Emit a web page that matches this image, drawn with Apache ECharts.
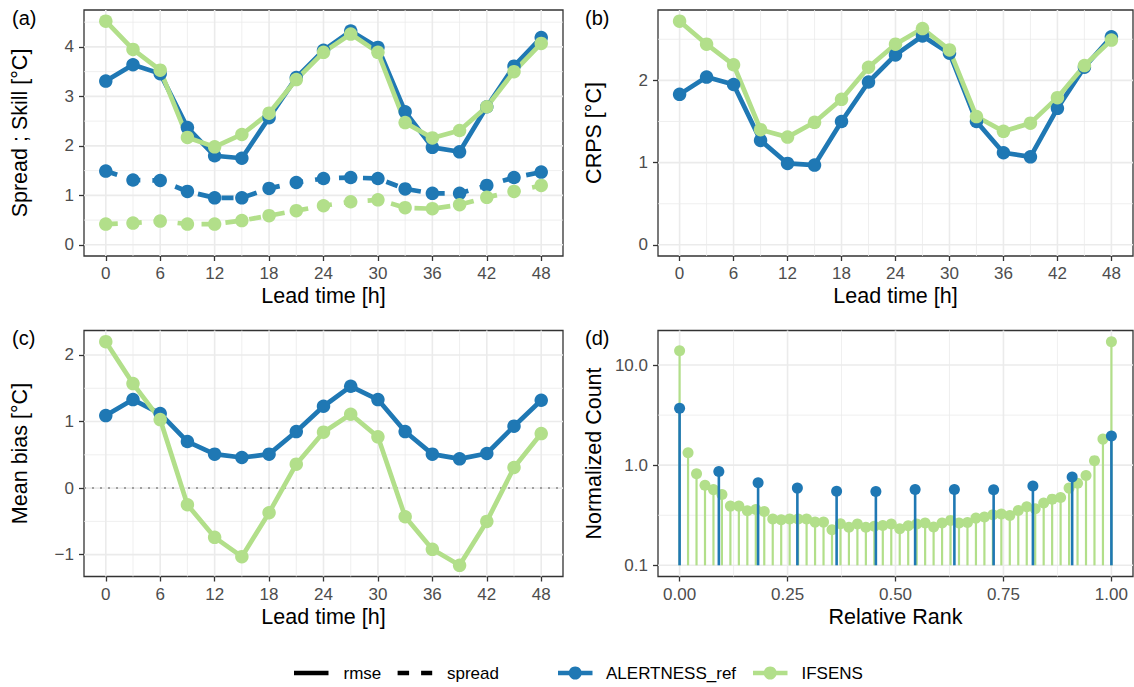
<!DOCTYPE html>
<html>
<head>
<meta charset="utf-8">
<script src="https://cdn.jsdelivr.net/npm/echarts@6/dist/echarts.min.js"></script>
<style>
  html, body { margin: 0; padding: 0; background: #ffffff; }
  #chart { width: 1134px; height: 687px; }
</style>
</head>
<body>
<div id="chart"></div>
<script>
// ---- data -------------------------------------------------------------
const leadTimes = [0, 3, 6, 9, 12, 15, 18, 21, 24, 27, 30, 33, 36, 39, 42, 45, 48];

// (a) RMSE (skill) and ensemble spread [°C]
const rmseRef   = [3.31, 3.64, 3.46, 2.37, 1.80, 1.75, 2.57, 3.38, 3.93, 4.32, 3.99, 2.69, 1.97, 1.88, 2.79, 3.61, 4.19];
const rmseEns   = [4.52, 3.95, 3.53, 2.17, 1.98, 2.23, 2.66, 3.34, 3.89, 4.26, 3.89, 2.47, 2.16, 2.31, 2.79, 3.50, 4.07];
const spreadRef = [1.49, 1.31, 1.30, 1.08, 0.95, 0.95, 1.14, 1.26, 1.34, 1.36, 1.34, 1.13, 1.04, 1.04, 1.20, 1.36, 1.47];
const spreadEns = [0.42, 0.44, 0.48, 0.42, 0.42, 0.49, 0.59, 0.69, 0.79, 0.87, 0.91, 0.75, 0.73, 0.81, 0.96, 1.08, 1.20];

// (b) CRPS [°C]
const crpsRef = [1.83, 2.04, 1.95, 1.27, 0.99, 0.97, 1.50, 1.98, 2.31, 2.54, 2.33, 1.50, 1.12, 1.07, 1.66, 2.16, 2.53];
const crpsEns = [2.72, 2.44, 2.19, 1.40, 1.31, 1.49, 1.77, 2.16, 2.44, 2.63, 2.37, 1.56, 1.38, 1.48, 1.79, 2.18, 2.49];

// (c) mean bias [°C]
const biasRef = [1.09, 1.33, 1.12, 0.70, 0.51, 0.46, 0.51, 0.85, 1.23, 1.53, 1.33, 0.85, 0.51, 0.44, 0.52, 0.93, 1.32];
const biasEns = [2.20, 1.57, 1.03, -0.25, -0.74, -1.03, -0.37, 0.36, 0.84, 1.11, 0.77, -0.43, -0.92, -1.16, -0.50, 0.31, 0.82];

// (d) rank histograms, normalized counts (12 bins for ALERTNESS_ref, 52 bins for IFSENS)
const rankCountRef = [3.70, 0.865, 0.667, 0.59, 0.55, 0.547, 0.572, 0.572, 0.568, 0.618, 0.76, 1.96];
const rankCountEns = [
  13.9, 1.33, 0.82, 0.63, 0.57, 0.51, 0.39, 0.39, 0.35, 0.36,
  0.345, 0.29, 0.285, 0.29, 0.29, 0.29, 0.27, 0.27, 0.227, 0.26,
  0.24, 0.258, 0.24, 0.245, 0.25, 0.258, 0.232, 0.248, 0.258, 0.264,
  0.241, 0.264, 0.281, 0.264, 0.268, 0.296, 0.303, 0.32, 0.325, 0.315,
  0.353, 0.384, 0.367, 0.418, 0.458, 0.476, 0.59, 0.66, 0.79, 1.11,
  1.82, 17.1
];

// axis breaks
const leadTicks  = [0, 6, 12, 18, 24, 30, 36, 42, 48];
const leadMinor  = [3, 9, 15, 21, 27, 33, 39, 45];
const skillTicks = [0, 1, 2, 3, 4];
const skillMinor = [0.5, 1.5, 2.5, 3.5, 4.5];
const crpsTicks  = [0, 1, 2];
const crpsMinor  = [0.5, 1.5, 2.5];
const biasTicks  = [-1, 0, 1, 2];
const biasMinor  = [-0.5, 0.5, 1.5];
const rankTicks  = [0, 0.25, 0.5, 0.75, 1];
const rankMinor  = [0.125, 0.375, 0.625, 0.875];
const countTicks = [0.1, 1, 10];          // drawn on a log10 scale
const countMinor = [0.316, 3.16];

// ---- styling ------------------------------------------------------------
const BLUE = '#1F78B4';
const GREEN = '#B2DF8A';
const FONT = '"Liberation Sans", Arial, Helvetica, sans-serif';
const LOG_BASE_VALUE = 0.1;   // stems of the rank histogram start here

const log10 = v => Math.log10(v);
const minusFmt = v => (v < 0 ? '\u2212' + Math.abs(v) : String(v));

function axisCommon(ticks, fmt) {
  return {
    axisLine: { show: false, onZero: false },
    splitLine: { show: false },
    axisTick: { show: true, length: 5, lineStyle: { color: '#333333', width: 1.3 }, customValues: ticks },
    axisLabel: { customValues: ticks, color: '#4D4D4D', fontSize: 17, fontFamily: FONT, formatter: fmt }
  };
}

function xAxisDef(gi, min, max, ticks, fmt, name) {
  const a = axisCommon(ticks, fmt);
  a.axisLabel.margin = 9;
  return Object.assign({
    type: 'value', gridIndex: gi, min, max,
    name, nameLocation: 'middle', nameGap: 29,
    nameTextStyle: { fontSize: 21.5, color: '#000000', fontFamily: FONT }
  }, a);
}

function yAxisDef(gi, min, max, ticks, fmt, name) {
  const a = axisCommon(ticks, fmt);
  a.axisLabel.margin = 10;
  return Object.assign({
    type: 'value', gridIndex: gi, min, max,
    name, nameLocation: 'middle', nameGap: 53, nameRotate: 90,
    nameTextStyle: { fontSize: 21.5, color: '#000000', fontFamily: FONT }
  }, a);
}

// background grid lines (major / minor) plus optional dotted reference line
function gridLines(gi, xMaj, xMin, yMaj, yMin, xRef, yRef, dotted) {
  const data = [];
  xMaj.forEach(v => data.push([v, yRef, 0, 1]));
  xMin.forEach(v => data.push([v, yRef, 0, 0]));
  yMaj.forEach(v => data.push([xRef, v, 1, 1]));
  yMin.forEach(v => data.push([xRef, v, 1, 0]));
  (dotted || []).forEach(v => data.push([xRef, v, 1, 2]));
  return {
    type: 'custom', xAxisIndex: gi, yAxisIndex: gi, silent: true, z: 1,
    data,
    renderItem(params, api) {
      const cs = params.coordSys;
      const vertical = api.value(2) === 0;
      const kind = api.value(3);
      const p = api.coord([api.value(0), api.value(1)]);
      const shape = vertical
        ? { x1: p[0], y1: cs.y, x2: p[0], y2: cs.y + cs.height }
        : { x1: cs.x, y1: p[1], x2: cs.x + cs.width, y2: p[1] };
      let style;
      if (kind === 2) style = { stroke: '#A0A0A0', lineWidth: 2, lineDash: [2, 6] };
      else style = { stroke: '#EBEBEB', lineWidth: kind === 1 ? 1.6 : 0.8 };
      return { type: 'line', shape, style };
    }
  };
}

function lineSeries(gi, name, ys, color, dashed) {
  return {
    type: 'line', name, xAxisIndex: gi, yAxisIndex: gi, z: 2, silent: true,
    data: leadTimes.map((t, i) => [t, ys[i]]),
    symbol: 'none', showSymbol: false,
    lineStyle: { color, width: 4.7, type: dashed ? [12, 12] : 'solid', join: 'round', cap: 'butt' }
  };
}

function pointSeries(gi, name, ys, color) {
  return {
    type: 'scatter', name, xAxisIndex: gi, yAxisIndex: gi, z: 3, silent: true,
    data: leadTimes.map((t, i) => [t, ys[i]]),
    symbol: 'circle', symbolSize: 13.5,
    itemStyle: { color, opacity: 1 }
  };
}

// rank histogram: each bin sits at relative rank i/(n-1)
function rankData(counts) {
  const n = counts.length;
  return counts.map((c, i) => [i / (n - 1), log10(c)]);
}

function stemSeries(gi, name, counts, color, width, z) {
  const base = log10(LOG_BASE_VALUE);
  return {
    type: 'custom', name, xAxisIndex: gi, yAxisIndex: gi, z, silent: true,
    data: rankData(counts),
    renderItem(params, api) {
      const top = api.coord([api.value(0), api.value(1)]);
      const bottom = api.coord([api.value(0), base]);
      return {
        type: 'line',
        shape: { x1: top[0], y1: bottom[1], x2: top[0], y2: top[1] },
        style: { stroke: color, lineWidth: width }
      };
    }
  };
}

function stemPoints(gi, name, counts, color, z) {
  return {
    type: 'scatter', name, xAxisIndex: gi, yAxisIndex: gi, z, silent: true,
    data: rankData(counts), symbol: 'circle', symbolSize: 11,
    itemStyle: { color, opacity: 1 }
  };
}

// ---- layout -------------------------------------------------------------
const grids = [
  { left: 84,  top: 10,    width: 479, height: 246 },
  { left: 658, top: 10,    width: 475, height: 246 },
  { left: 84,  top: 330.5, width: 479, height: 246 },
  { left: 658, top: 330.5, width: 475, height: 246 }
].map(g => Object.assign(g, {
  show: true, backgroundColor: '#ffffff', borderColor: '#333333', borderWidth: 1.3,
  containLabel: false, outerBoundsMode: 'none'
}));

const countLabel = v => Math.pow(10, v).toFixed(1);

const option = {
  animation: false,
  backgroundColor: '#ffffff',
  textStyle: { fontFamily: FONT },
  grid: grids,
  xAxis: [
    xAxisDef(0, -2.4, 50.4, leadTicks, v => String(v), 'Lead time [h]'),
    xAxisDef(1, -2.4, 50.4, leadTicks, v => String(v), 'Lead time [h]'),
    xAxisDef(2, -2.4, 50.4, leadTicks, v => String(v), 'Lead time [h]'),
    xAxisDef(3, -0.05, 1.05, rankTicks, v => v.toFixed(2), 'Relative Rank')
  ],
  yAxis: [
    yAxisDef(0, -0.226, 4.746, skillTicks, minusFmt, 'Spread ; Skill [\u00B0C]'),
    yAxisDef(1, -0.136, 2.856, crpsTicks, minusFmt, 'CRPS [\u00B0C]'),
    yAxisDef(2, -1.328, 2.368, biasTicks, minusFmt, 'Mean bias [\u00B0C]'),
    yAxisDef(3, -1.1117, 1.3447, countTicks.map(log10), countLabel, 'Normalized Count')
  ],
  series: [
    gridLines(0, leadTicks, leadMinor, skillTicks, skillMinor, 0, 0),
    gridLines(1, leadTicks, leadMinor, crpsTicks, crpsMinor, 0, 0),
    gridLines(2, leadTicks, leadMinor, biasTicks, biasMinor, 0, 0, [0]),
    gridLines(3, rankTicks, rankMinor, countTicks.map(log10), countMinor.map(log10), 0, 0),

    // (a) spread and skill
    lineSeries(0, 'ALERTNESS_ref', rmseRef, BLUE, false),
    lineSeries(0, 'ALERTNESS_ref', spreadRef, BLUE, true),
    lineSeries(0, 'IFSENS', rmseEns, GREEN, false),
    lineSeries(0, 'IFSENS', spreadEns, GREEN, true),
    pointSeries(0, 'ALERTNESS_ref', rmseRef, BLUE),
    pointSeries(0, 'ALERTNESS_ref', spreadRef, BLUE),
    pointSeries(0, 'IFSENS', rmseEns, GREEN),
    pointSeries(0, 'IFSENS', spreadEns, GREEN),

    // (b) CRPS
    lineSeries(1, 'ALERTNESS_ref', crpsRef, BLUE, false),
    lineSeries(1, 'IFSENS', crpsEns, GREEN, false),
    pointSeries(1, 'ALERTNESS_ref', crpsRef, BLUE),
    pointSeries(1, 'IFSENS', crpsEns, GREEN),

    // (c) mean bias
    lineSeries(2, 'ALERTNESS_ref', biasRef, BLUE, false),
    lineSeries(2, 'IFSENS', biasEns, GREEN, false),
    pointSeries(2, 'ALERTNESS_ref', biasRef, BLUE),
    pointSeries(2, 'IFSENS', biasEns, GREEN),

    // (d) rank histograms
    stemSeries(3, 'IFSENS', rankCountEns, GREEN, 2.2, 2),
    stemPoints(3, 'IFSENS', rankCountEns, GREEN, 3),
    stemSeries(3, 'ALERTNESS_ref', rankCountRef, BLUE, 2.6, 4),
    stemPoints(3, 'ALERTNESS_ref', rankCountRef, BLUE, 5)
  ],
  graphic: [
    // panel tags
    { type: 'text', x: 12, y: 18, style: { text: '(a)', fontSize: 20, fontFamily: FONT, fill: '#000', verticalAlign: 'middle' } },
    { type: 'text', x: 585, y: 18, style: { text: '(b)', fontSize: 20, fontFamily: FONT, fill: '#000', verticalAlign: 'middle' } },
    { type: 'text', x: 12, y: 338, style: { text: '(c)', fontSize: 20, fontFamily: FONT, fill: '#000', verticalAlign: 'middle' } },
    { type: 'text', x: 585, y: 338, style: { text: '(d)', fontSize: 20, fontFamily: FONT, fill: '#000', verticalAlign: 'middle' } },

    // legend: line type
    { type: 'line', shape: { x1: 294, y1: 673, x2: 328.5, y2: 673 }, style: { stroke: '#000', lineWidth: 4.7 } },
    { type: 'text', x: 343.5, y: 673, style: { text: 'rmse', fontSize: 17, fontFamily: FONT, fill: '#000', verticalAlign: 'middle' } },
    { type: 'line', shape: { x1: 397.6, y1: 673, x2: 432.2, y2: 673 }, style: { stroke: '#000', lineWidth: 4.7, lineDash: [11.5, 12] } },
    { type: 'text', x: 447, y: 673, style: { text: 'spread', fontSize: 17, fontFamily: FONT, fill: '#000', verticalAlign: 'middle' } },

    // legend: model
    { type: 'line', shape: { x1: 558, y1: 673, x2: 592.5, y2: 673 }, style: { stroke: BLUE, lineWidth: 4.7 } },
    { type: 'circle', shape: { cx: 575.2, cy: 673, r: 6.5 }, style: { fill: BLUE } },
    { type: 'text', x: 606, y: 673, style: { text: 'ALERTNESS_ref', fontSize: 17, fontFamily: FONT, fill: '#000', verticalAlign: 'middle' } },
    { type: 'line', shape: { x1: 753, y1: 673, x2: 787.5, y2: 673 }, style: { stroke: GREEN, lineWidth: 4.7 } },
    { type: 'circle', shape: { cx: 770.2, cy: 673, r: 6.5 }, style: { fill: GREEN } },
    { type: 'text', x: 801.5, y: 673, style: { text: 'IFSENS', fontSize: 17, fontFamily: FONT, fill: '#000', verticalAlign: 'middle' } }
  ]
};

const chart = echarts.init(document.getElementById('chart'), null, { renderer: 'svg', width: 1134, height: 687 });
chart.setOption(option);
</script>
</body>
</html>
